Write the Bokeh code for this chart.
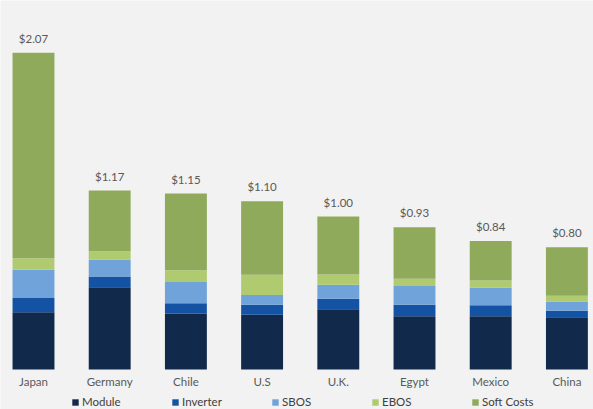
from bokeh.plotting import figure
from bokeh.models import ColumnDataSource, Legend, LegendItem, Range1d, LabelSet
from bokeh.core.properties import value
from bokeh.embed import file_html
from bokeh.resources import INLINE

countries = ["Japan", "Germany", "Chile", "U.S", "U.K.", "Egypt", "Mexico", "China"]
totals = [2.07, 1.17, 1.15, 1.10, 1.00, 0.93, 0.84, 0.80]
module = [0.374, 0.538, 0.364, 0.359, 0.394, 0.348, 0.348, 0.342]
inverter = [0.094, 0.070, 0.069, 0.065, 0.068, 0.076, 0.072, 0.042]
sbos = [0.185, 0.109, 0.140, 0.063, 0.093, 0.122, 0.114, 0.061]
ebos = [0.074, 0.056, 0.076, 0.133, 0.067, 0.048, 0.048, 0.037]
soft = [round(t - m - i - s - e, 3) for t, m, i, s, e in zip(totals, module, inverter, sbos, ebos)]

series = ["Module", "Inverter", "SBOS", "EBOS", "Soft Costs"]
colors = ["#11294a", "#1452a3", "#6fa3d9", "#b0ca70", "#8faa5b"]

x = list(range(len(countries)))
src = ColumnDataSource(dict(
    x=x, Module=module, Inverter=inverter, SBOS=sbos, EBOS=ebos,
    **{"Soft Costs": soft},
    zero=[0] * len(countries), country=countries,
    total=totals, label=["$%.2f" % t for t in totals],
))

FONT = "Lato"
BG = "#f2f2f2"

p = figure(width=593, height=409, output_backend="svg", toolbar_location=None,
           x_range=Range1d(-0.433, 7.349), y_range=Range1d(-0.261, 2.412),
           background_fill_color=BG, border_fill_color=BG,
           min_border_left=0, min_border_right=0, min_border_top=0, min_border_bottom=0)
p.outline_line_color = None
p.grid.visible = False
p.xaxis.visible = False
p.yaxis.visible = False

renderers = p.vbar_stack(series, x="x", width=0.55, color=colors, line_color=None, source=src)

totals_lbl = LabelSet(x="x", y="total", text="label", source=src, text_align="center",
                      text_baseline="bottom", y_offset=8, text_font=value(FONT),
                      text_font_size="11.5px", text_color="#595959")
p.add_layout(totals_lbl)

cat_lbl = LabelSet(x="x", y="zero", text="country", source=src, text_align="center",
                   text_baseline="middle", y_offset=-12, text_font=value(FONT),
                   text_font_size="11.5px", text_color="#595959")
p.add_layout(cat_lbl)

legend = Legend(items=[LegendItem(label=s, renderers=[r]) for s, r in zip(series, renderers)],
                orientation="horizontal", location=(71, 1),
                background_fill_alpha=0, border_line_color=None,
                glyph_width=8, glyph_height=8, label_standoff=3, label_width=86,
                label_height=10, spacing=3, padding=0, margin=0,
                label_text_font=FONT, label_text_font_size="11.5px", label_text_color="#404040")
p.add_layout(legend, "center")

open("out.html", "w").write(file_html(p, INLINE))
